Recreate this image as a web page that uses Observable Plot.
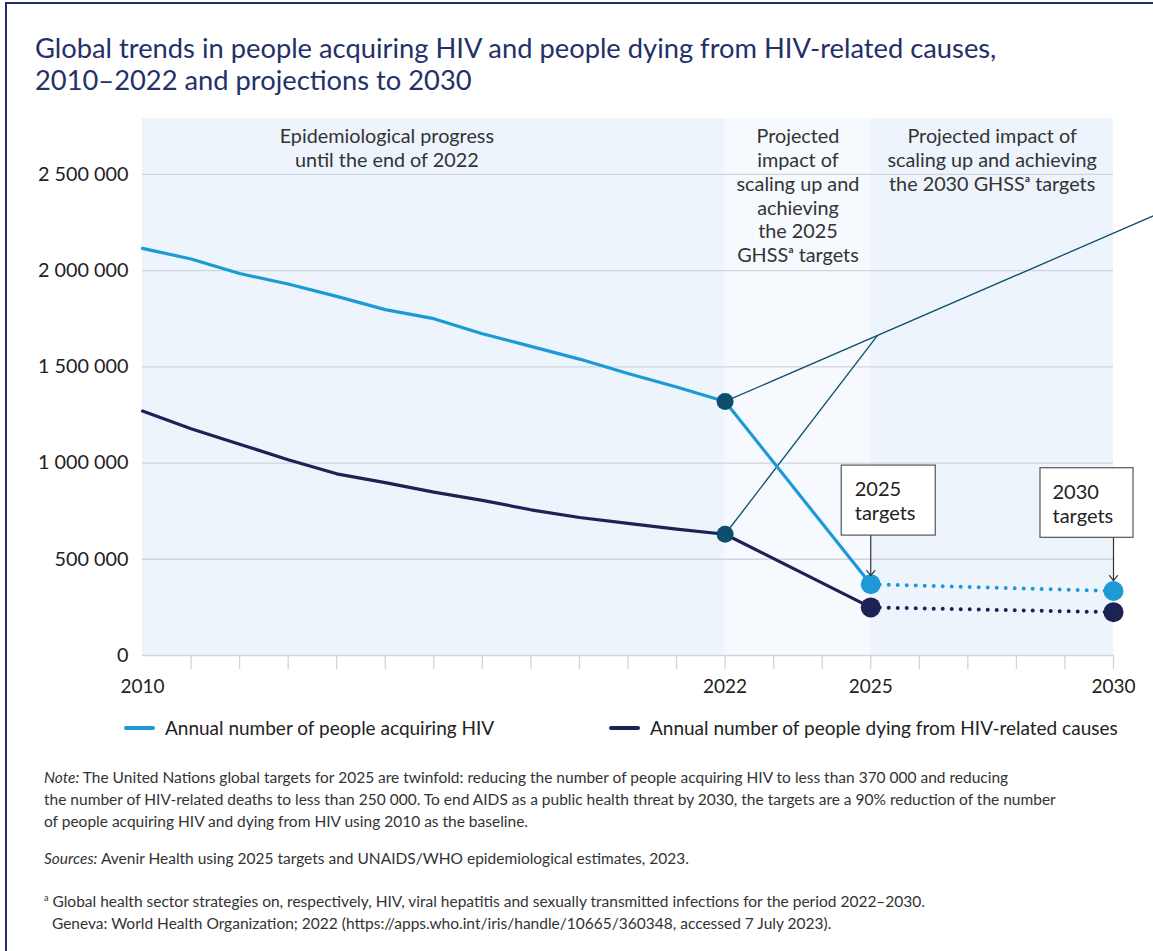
<!DOCTYPE html>
<html><head><meta charset="utf-8">
<script src="https://cdn.jsdelivr.net/npm/d3@7"></script>
<script src="https://cdn.jsdelivr.net/npm/@observablehq/plot@0.6"></script>
<style>
body{margin:0;width:1153px;height:951px;overflow:hidden;background:#fff;font-family:Lato,sans-serif;position:relative}
#frame{position:absolute;left:5px;top:2px;width:1300px;height:1100px;border-left:2.5px solid #1f2e6e;border-top:2.5px solid #1f2e6e;pointer-events:none}
#title{position:absolute;left:35px;top:32px;font-size:27.3px;line-height:32px;color:#243067;white-space:nowrap}
#chart{position:absolute;left:0;top:105px}
.leg{position:absolute;top:716px;font-size:19px;color:#222;display:flex;align-items:center;white-space:nowrap}
.sw{width:31px;height:4px;border-radius:2px;margin-right:10px}
.note{position:absolute;left:44px;font-size:15.5px;line-height:22px;color:#333;white-space:nowrap}
</style></head>
<body>
<div id="frame"></div>
<div id="title">Global trends in people acquiring HIV and people dying from HIV-related causes,<br>2010–2022 and projections to 2030</div>
<div id="chart"></div>
<div class="leg" style="left:124px"><div class="sw" style="background:#1d9ad6"></div>Annual number of people acquiring HIV</div>
<div class="leg" style="left:609px"><div class="sw" style="background:#1c2254"></div>Annual number of people dying from HIV-related causes</div>
<div class="note" style="top:766px"><i>Note:</i> The United Nations global targets for 2025 are twinfold: reducing the number of people acquiring HIV to less than 370 000 and reducing<br>the number of HIV-related deaths to less than 250 000. To end AIDS as a public health threat by 2030, the targets are a 90% reduction of the number<br>of people acquiring HIV and dying from HIV using 2010 as the baseline.</div>
<div class="note" style="top:847px"><i>Sources:</i> Avenir Health using 2025 targets and UNAIDS/WHO epidemiological estimates, 2023.</div>
<div class="note" style="top:887px"><sup style="font-size:9px">a</sup> Global health sector strategies on, respectively, HIV, viral hepatitis and sexually transmitted infections for the period 2022–2030.<br>&nbsp;&nbsp;Geneva: World Health Organization; 2022 (https://apps.who.int/iris/handle/10665/360348, accessed 7 July 2023).</div>
<script>
// ---- data ----
const years = [2010,2011,2012,2013,2014,2015,2016,2017,2018,2019,2020,2021,2022];
const hivAcquiring = [2115000,2060000,1985000,1930000,1866000,1797000,1750000,1672000,1606000,1540000,1465000,1395000,1320000];
const hivDeaths = [1270000,1178000,1098000,1017000,944000,898000,849000,806000,757000,717000,686000,657000,630000];
const targetYears = [2025,2030];
const hivTargets = [370000,335000];
const deathTargets = [250000,225000];
const yTicks = [0,500000,1000000,1500000,2000000,2500000];
const xTickYears = d3.range(2011,2031);
const xLabelYears = [2010,2022,2025,2030];
const regions = [
  {start:2010,end:2022,label:"Epidemiological progress\nuntil the end of 2022"},
  {start:2022,end:2025,label:"Projected\nimpact of\nscaling up and\nachieving\nthe 2025\nGHSSᵃ targets"},
  {start:2025,end:2030,label:"Projected impact of\nscaling up and achieving\nthe 2030 GHSSᵃ targets"}
];
const targetLabels = ["2025\ntargets","2030\ntargets"];
const yTop = 2790000;
// leader-line anchors (annotation)
const leaderHub = {year:2025.14,value:1663000};
const leaderEnd = {year:2030.85,value:2287000};

// ---- derived tables ----
const hiv = years.map((y,i)=>({year:y,value:hivAcquiring[i]}));
const deaths = years.map((y,i)=>({year:y,value:hivDeaths[i]}));
const hivT = targetYears.map((y,i)=>({year:y,value:hivTargets[i]}));
const deathT = targetYears.map((y,i)=>({year:y,value:deathTargets[i]}));
const hivSolid = [...hiv, hivT[0]];
const deathSolid = [...deaths, deathT[0]];
const last = hiv.length-1;
const dots2022 = [hiv[last], deaths[last]];
const leaders = [
  {x1:hiv[last].year,y1:hiv[last].value,x2:leaderEnd.year,y2:leaderEnd.value},
  {x1:deaths[last].year,y1:deaths[last].value,x2:leaderHub.year,y2:leaderHub.value}
];
const boxes = hivT.map((d,i)=>({...d,label:targetLabels[i]}));
const fmt = d => d3.format(",")(d).replace(/,/g," ");

const C_HIV = "#1d9ad6", C_DTH = "#1c2254", C_TEAL = "#0c4e6c";
const arrowShape = {draw(ctx,l){const h=5; ctx.moveTo(0,0); ctx.lineTo(0,-l); ctx.moveTo(-h*0.8,-l+h); ctx.lineTo(0,-l); ctx.lineTo(h*0.8,-l+h);}};

const chart = Plot.plot({
  width:1153, height:600,
  marginLeft:142, marginRight:40, marginTop:13, marginBottom:50,
  x:{domain:[2010,2030]},
  y:{domain:[0,yTop]},
  style:{fontFamily:"Lato, sans-serif", background:"transparent", overflow:"visible"},
  marks:[
    Plot.rect(regions,{x1:"start",x2:"end",y1:0,y2:yTop,fill:(d,i)=>["#edf4fc","#f6f9fe","#edf4fc"][i]}),
    Plot.ruleY(yTicks,{stroke:"#cfd5de",strokeWidth:1.3}),
    Plot.axisY({ticks:yTicks,tickSize:0,tickPadding:14,tickFormat:fmt,fontSize:19.8,fill:"#222",label:null}),
    Plot.axisX({ticks:xTickYears,tickSize:14,tickFormat:()=>"",stroke:"#cfd5de",strokeWidth:1.3,label:null}),
    Plot.axisX({ticks:xLabelYears,tickSize:0,tickPadding:24,tickFormat:d=>String(d),fontSize:19,fill:"#222",label:null}),
    Plot.text(regions.slice(0,1),{x:d=>(d.start+d.end)/2,frameAnchor:"top",text:"label",lineAnchor:"top",dy:8,dx:-47,fontSize:19.8,lineHeight:1.2,fill:"#333"}),
    Plot.text(regions.slice(1),{x:d=>(d.start+d.end)/2,frameAnchor:"top",text:"label",lineAnchor:"top",dy:8,fontSize:19.8,lineHeight:1.2,fill:"#333"}),
    Plot.link(leaders,{x1:"x1",y1:"y1",x2:"x2",y2:"y2",stroke:C_TEAL,strokeWidth:1.3}),
    Plot.line(hivSolid,{x:"year",y:"value",stroke:C_HIV,strokeWidth:3.2}),
    Plot.line(deathSolid,{x:"year",y:"value",stroke:C_DTH,strokeWidth:3.2}),
    Plot.line(hivT,{x:"year",y:"value",stroke:C_HIV,strokeWidth:4,strokeDasharray:"0 9",strokeLinecap:"round"}),
    Plot.line(deathT,{x:"year",y:"value",stroke:C_DTH,strokeWidth:4,strokeDasharray:"0 9",strokeLinecap:"round"}),
    Plot.dot(dots2022,{x:"year",y:"value",r:8.5,fill:C_TEAL}),
    Plot.dot(hivT,{x:"year",y:"value",r:10,fill:C_HIV}),
    Plot.dot(deathT,{x:"year",y:"value",r:10,fill:C_DTH}),
    // target boxes
    Plot.rect(boxes.slice(0,1),{x1:"year",x2:"year",y1:"value",y2:"value",insetLeft:-29,insetRight:-65,insetTop:-118.7,insetBottom:48.7,fill:"white",stroke:"#555",strokeWidth:1.2}),
    Plot.rect(boxes.slice(1),{x1:"year",x2:"year",y1:"value",y2:"value",insetLeft:-73,insetRight:-20,insetTop:-122.8,insetBottom:53.2,fill:"white",stroke:"#555",strokeWidth:1.2}),
    Plot.text(boxes.slice(0,1),{x:"year",y:"value",text:"label",textAnchor:"start",lineAnchor:"middle",dx:-16,dy:-84,fontSize:20,lineHeight:1.2,fill:"#222"}),
    Plot.text(boxes.slice(1),{x:"year",y:"value",text:"label",textAnchor:"start",lineAnchor:"middle",dx:-61,dy:-87.5,fontSize:20,lineHeight:1.2,fill:"#222"}),
    Plot.vector(boxes.slice(0,1),{x:"year",y:"value",length:40,rotate:180,anchor:"end",dy:-8.7,shape:arrowShape,stroke:"#333",strokeWidth:1.2}),
    Plot.vector(boxes.slice(1),{x:"year",y:"value",length:42.7,rotate:180,anchor:"end",dy:-10.5,shape:arrowShape,stroke:"#333",strokeWidth:1.2})
  ]
});
document.getElementById("chart").appendChild(chart);
</script>
</body></html>
